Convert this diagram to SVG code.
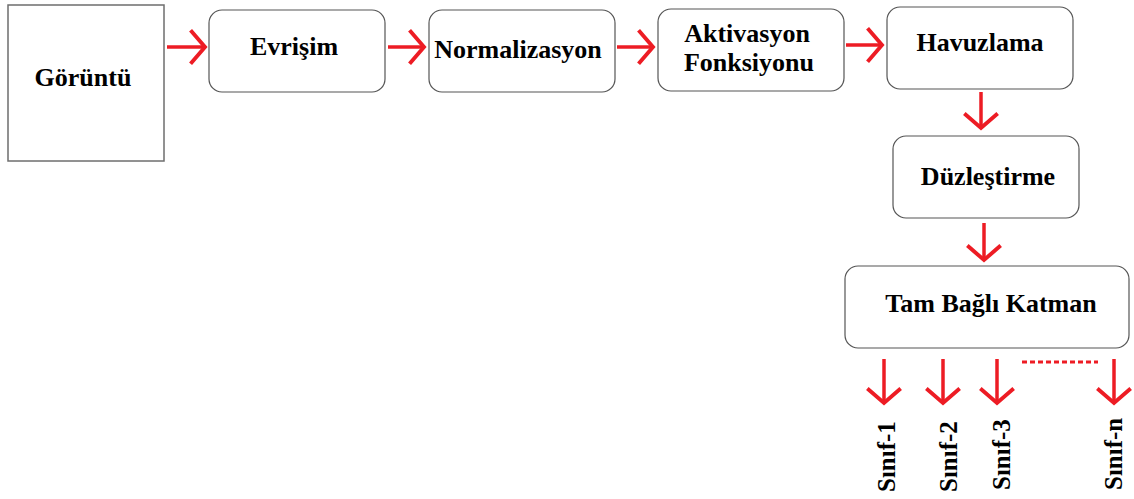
<svg xmlns="http://www.w3.org/2000/svg" width="1134" height="499" viewBox="0 0 1134 499">
  <style>
    .box { fill: #ffffff; stroke: #555555; stroke-width: 1.2; }
    .img { fill: #ffffff; stroke: #6e6e6e; stroke-width: 1.5; }
    .lbl { font-family: "Liberation Serif", "Times New Roman", serif; font-weight: bold; font-size: 26px; fill: #000000; text-anchor: middle; }
    .cls { font-family: "Liberation Serif", "Times New Roman", serif; font-weight: bold; font-size: 25px; fill: #000000; }
    .arr { fill: none; stroke: #ed1c24; stroke-width: 3.5; marker-end: url(#head); }
    .dots { fill: none; stroke: #ed1c24; stroke-width: 3.2; stroke-dasharray: 5 3; }
  </style>
  <defs>
    <marker id="head" markerUnits="userSpaceOnUse" markerWidth="30" markerHeight="40" viewBox="-16 -18 20 36" refX="0" refY="0" orient="auto" overflow="visible">
      <path d="M -13 -15 L 0 0 L -13 15" fill="none" stroke="#ed1c24" stroke-width="3.5"/>
    </marker>
  </defs>

  <rect width="1134" height="499" fill="#ffffff"/>

  <!-- input image -->
  <g id="goruntu">
    <rect class="img" x="8" y="5" width="156" height="156"/>
    <text class="lbl" x="83" y="86">Görüntü</text>
  </g>

  <g id="evrisim">
    <rect class="box" x="209" y="10" width="176" height="82" rx="13"/>
    <text class="lbl" x="294" y="55">Evrişim</text>
  </g>

  <g id="normalizasyon">
    <rect class="box" x="429" y="10" width="186" height="82" rx="13"/>
    <text class="lbl" x="518" y="58">Normalizasyon</text>
  </g>

  <g id="aktivasyon">
    <rect class="box" x="658" y="9" width="186" height="82" rx="13"/>
    <text class="lbl" x="747" y="42">Aktivasyon</text>
    <text class="lbl" x="749" y="71">Fonksiyonu</text>
  </g>

  <g id="havuzlama">
    <rect class="box" x="887" y="7" width="186" height="82" rx="13"/>
    <text class="lbl" x="980" y="51">Havuzlama</text>
  </g>

  <g id="duzlestirme">
    <rect class="box" x="893" y="136" width="186" height="82" rx="13"/>
    <text class="lbl" x="988" y="185">Düzleştirme</text>
  </g>

  <g id="tam-bagli">
    <rect class="box" x="845" y="266" width="284" height="82" rx="13"/>
    <text class="lbl" x="991" y="312">Tam Bağlı Katman</text>
  </g>

  <!-- output classes, written bottom-to-top -->
  <g id="sinif-1"><text class="cls" transform="translate(895 492) rotate(-90)">Sınıf-1</text></g>
  <g id="sinif-2"><text class="cls" transform="translate(957 492) rotate(-90)">Sınıf-2</text></g>
  <g id="sinif-3"><text class="cls" transform="translate(1010 490) rotate(-90)">Sınıf-3</text></g>
  <g id="sinif-n"><text class="cls" transform="translate(1122 490) rotate(-90)">Sınıf-n</text></g>

  <!-- connectors -->
  <g id="connectors">
    <line class="arr" x1="167" y1="47" x2="205" y2="47"/>
    <line class="arr" x1="388" y1="47" x2="424" y2="47"/>
    <line class="arr" x1="617" y1="47" x2="653" y2="47"/>
    <line class="arr" x1="846" y1="45" x2="882" y2="45"/>
    <line class="arr" x1="981" y1="92" x2="981" y2="128"/>
    <line class="arr" x1="984" y1="223" x2="984" y2="260"/>
    <line class="arr" x1="884" y1="359" x2="884" y2="403"/>
    <line class="arr" x1="943" y1="359" x2="943" y2="403"/>
    <line class="arr" x1="997" y1="359" x2="997" y2="403"/>
    <line class="arr" x1="1114" y1="359" x2="1114" y2="403"/>
    <line class="dots" x1="1022" y1="362" x2="1098" y2="362"/>
  </g>
</svg>
